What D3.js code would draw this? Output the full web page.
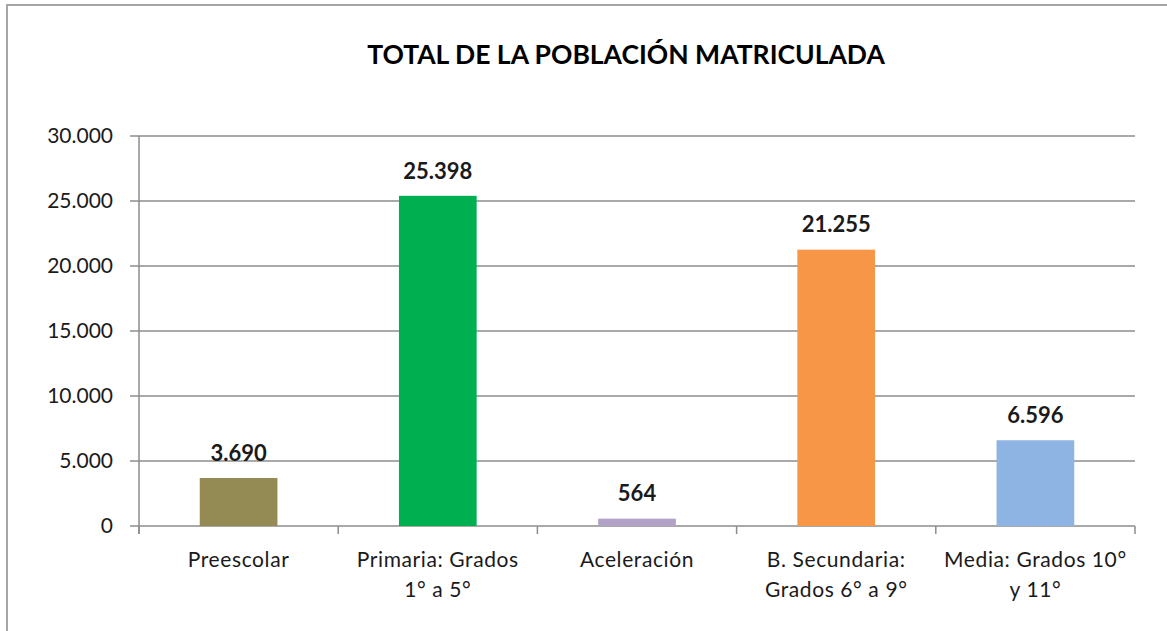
<!DOCTYPE html>
<html>
<head>
<meta charset="utf-8">
<script src="https://cdn.jsdelivr.net/npm/d3@7"></script>
<style>
  body { margin: 0; background: #fff; }
  svg { display: block; font-family: Lato, "Open Sans", sans-serif; }
</style>
</head>
<body>
<div id="chart"></div>
<script>
// chart data
const categories = ["Preescolar", "Primaria: Grados|1° a 5°", "Aceleración", "B. Secundaria:|Grados 6° a 9°", "Media: Grados 10°|y 11°"];
const values = [3690, 25398, 564, 21255, 6596];
const barColors = ["#948a54", "#00b050", "#b3a2c7", "#f79646", "#8eb4e3"];
const yTicks = [0, 5000, 10000, 15000, 20000, 25000, 30000];
const title = "TOTAL DE LA POBLACIÓN MATRICULADA";

const width = 1167, height = 631;
const plot = { left: 139, right: 1135, top: 136, bottom: 526 };

const fmt = d => d3.format(",")(d).replace(/,/g, ".");

const svg = d3.select("#chart").append("svg")
    .attr("width", width)
    .attr("height", height);

// outer chart border (only top and left visible)
svg.append("rect")
    .attr("x", 7).attr("y", 5)
    .attr("width", 1200).attr("height", 700)
    .attr("fill", "none")
    .attr("stroke", "#a6a6a6")
    .attr("stroke-width", 2);

const x = d3.scaleBand()
    .domain(categories)
    .range([plot.left, plot.right])
    .paddingInner(0.61)
    .paddingOuter(0.305);

const y = d3.scaleLinear()
    .domain([0, 30000])
    .range([plot.bottom, plot.top]);

// gridlines
svg.append("g")
    .selectAll("line")
    .data(yTicks)
    .join("line")
    .attr("x1", plot.left - 9)
    .attr("x2", plot.right)
    .attr("y1", d => y(d))
    .attr("y2", d => y(d))
    .attr("stroke", "#8c8c8c")
    .attr("stroke-width", 1.5);

// y axis line
svg.append("line")
    .attr("x1", plot.left).attr("x2", plot.left)
    .attr("y1", plot.top).attr("y2", plot.bottom + 8)
    .attr("stroke", "#8c8c8c")
    .attr("stroke-width", 1.5);

// y tick labels
svg.append("g")
    .selectAll("text")
    .data(yTicks)
    .join("text")
    .attr("x", 113)
    .attr("y", d => y(d))
    .attr("dy", "0.35em")
    .attr("text-anchor", "end")
    .attr("font-size", 21)
    .attr("fill", "#1a1a1a")
    .text(d => fmt(d));

// category separators (ticks below axis)
const step = x.step();
svg.append("g")
    .selectAll("line")
    .data(d3.range(categories.length + 1))
    .join("line")
    .attr("x1", i => plot.left + i * step)
    .attr("x2", i => plot.left + i * step)
    .attr("y1", plot.bottom)
    .attr("y2", plot.bottom + 8)
    .attr("stroke", "#8c8c8c")
    .attr("stroke-width", 1.5);

// bars
svg.append("g")
    .selectAll("rect")
    .data(values)
    .join("rect")
    .attr("x", (d, i) => x(categories[i]))
    .attr("y", d => y(d))
    .attr("width", x.bandwidth())
    .attr("height", d => y(0) - y(d))
    .attr("fill", (d, i) => barColors[i]);

// value labels
svg.append("g")
    .selectAll("text")
    .data(values)
    .join("text")
    .attr("x", (d, i) => x(categories[i]) + x.bandwidth() / 2)
    .attr("y", d => y(d) - 25)
    .attr("dy", "0.35em")
    .attr("text-anchor", "middle")
    .attr("font-size", 22)
    .attr("font-weight", "bold")
    .attr("fill", "#1a1a1a")
    .text(d => fmt(d));

// category labels, split on |
const catLabels = svg.append("g")
    .selectAll("text")
    .data(categories)
    .join("text")
    .attr("x", d => x(d) + x.bandwidth() / 2)
    .attr("y", 560)
    .attr("text-anchor", "middle")
    .attr("font-size", 21)
    .attr("letter-spacing", 0.6)
    .attr("fill", "#1a1a1a");

catLabels.selectAll("tspan")
    .data(d => d.split("|").map((t, i) => ({ t, i, cx: x(d) + x.bandwidth() / 2 })))
    .join("tspan")
    .attr("x", d => d.cx)
    .attr("y", d => 560 + d.i * 30)
    .attr("dy", "0.35em")
    .text(d => d.t);

// title
svg.append("text")
    .attr("x", 626)
    .attr("y", 55)
    .attr("dy", "0.35em")
    .attr("text-anchor", "middle")
    .attr("font-size", 26.5)
    .attr("font-weight", "bold")
    .attr("fill", "#000")
    .text(title);
</script>
</body>
</html>
